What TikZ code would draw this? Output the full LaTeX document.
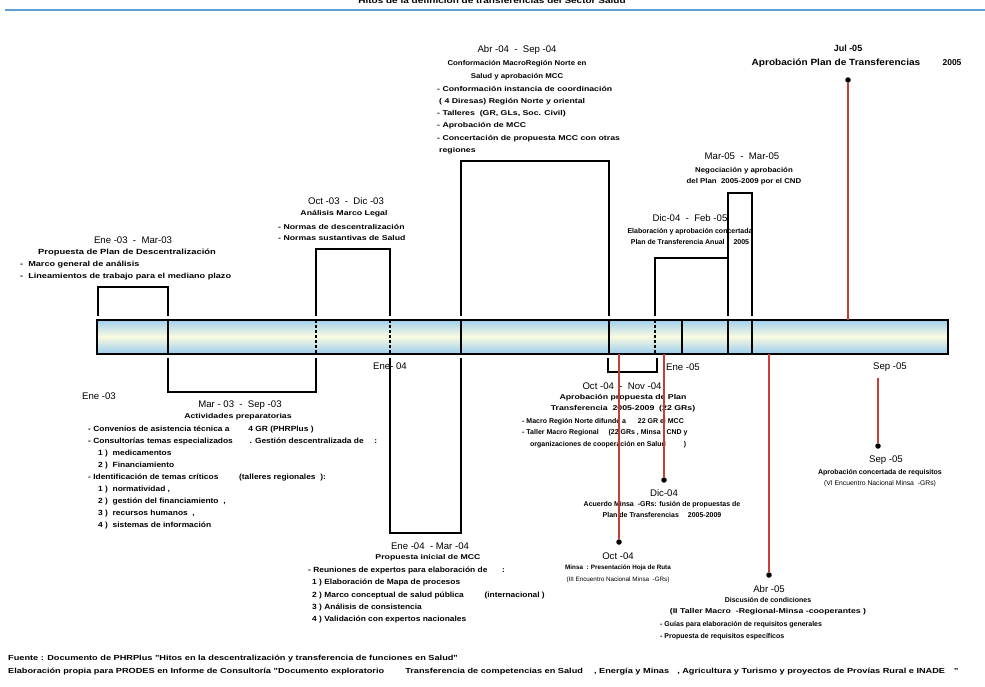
\documentclass[tikz,border=0pt]{standalone}
\usepackage{fontspec}
\setmainfont{Liberation Sans}
\newfontfamily\ancha[FakeStretch=1.25]{Liberation Sans}
\newfontfamily\anchab[FakeStretch=1.12]{Liberation Sans}
\usetikzlibrary{positioning}

\definecolor{rojo}{RGB}{200,62,52}
\definecolor{azulbar}{RGB}{160,208,238}
\definecolor{crema}{RGB}{250,250,224}
\definecolor{azultit}{RGB}{92,160,214}

\begin{document}
\begin{tikzpicture}[x=1pt,y=-1pt,
    date/.style={font=\fontsize{9.6}{11}\selectfont, inner sep=0pt},
    lbl/.style={font=\bfseries\fontsize{7}{11.5}\selectfont, inner sep=0pt, align=center},
    wlbl/.style={lbl, font=\ancha\bfseries\fontsize{7}{11.5}\selectfont},
    lst/.style={font=\bfseries\fontsize{7}{12}\selectfont, inner sep=0pt, align=left, anchor=north west},
    wlst/.style={lst, font=\ancha\bfseries\fontsize{7}{12}\selectfont},
    brk/.style={draw=black, line width=1.6pt},
    tick/.style={draw=black, line width=1.6pt},
    hito/.style={draw=rojo, line width=1.6pt},
    dot/.style={circle, fill=black, inner sep=0pt, minimum size=5.5pt}]

\useasboundingbox (0,0) rectangle (985,686);
\fill[white] (0,0) rectangle (985,686);

% titulo
\node[font=\ancha\bfseries\fontsize{8}{9}\selectfont, inner sep=0pt] (titulo) at (492,1) {Hitos de la definición de transferencias del Sector Salud};
\draw[azultit, line width=2pt] (5,10) -- (985,10);

% barra de tiempo
\foreach \i in {0,...,33} {
  \pgfmathsetmacro\pct{100*abs(\i-16.5)/16.5}
  \fill[azulbar!\pct!crema] (97,{320+\i}) rectangle (948,{321.4+\i});
}
\draw[line width=1.8pt] (97,320) rectangle (948,354);

% puntos en la barra
\foreach \n/\x in {e03/98, m03/168, o03/316, d03/390, a04/461, s04/609, o04/608, d04/655, n04/657, f05/728, m05/752} {
  \coordinate (\n t) at (\x,316);
  \coordinate (\n b) at (\x,358);
}
\foreach \x in {168, 461, 609, 682, 728, 752}
  \draw[tick] (\x,320) -- (\x,354);
\foreach \x in {316, 390, 655}
  \draw[tick, densely dashed] (\x,320) -- (\x,354);

% tramos sobre la barra
\draw[brk] (e03t) |- (130,287) -| (m03t);
\draw[brk] (o03t) |- (350,249) -| (d03t);
\draw[brk] (a04t) |- (530,161) -| (s04t);
\draw[brk] (d04t) |- (690,258) -| (f05t);
\draw[brk] (f05t) |- (740,193) -| (m05t);

% tramos bajo la barra
\draw[brk] (m03b) |- (240,392) -| (o03b);
\draw[brk] (d03b) |- (430,533) -| (a04b);
\draw[brk] (o04b) |- (630,372) -| (n04b);

% Ene-03 - Mar-03
\node[date] (d1) at (133,240) {Ene -03 \ - \ Mar-03};
\node[wlbl, font=\ancha\bfseries\fontsize{7.5}{11.5}\selectfont] (t1) at (127,253) {Propuesta de Plan de Descentralización};
\node[wlst, font=\ancha\bfseries\fontsize{7.3}{12}\selectfont] (l1) at (20,261) {- \ Marco general de análisis\\- \ Lineamientos de trabajo para el mediano plazo};

% Oct-03 - Dic-03
\node[date] (d2) at (346,201) {Oct -03 \ - \ Dic -03};
\node[wlbl] (t2) at (344,214) {Análisis Marco Legal};
\node[wlst, font=\ancha\bfseries\fontsize{7}{11}\selectfont] (l2) at (278,224) {- Normas de descentralización\\- Normas sustantivas de Salud};

% Abr-04 - Sep-04
\node[date] (d3) at (517,50) {Abr -04 \ - \ Sep -04};
\node[lbl, anchor=north, font=\anchab\bfseries\fontsize{7}{13}\selectfont] (t3) at (517,60) {Conformación MacroRegión Norte en\\Salud y aprobación MCC};
\node[wlst, font=\ancha\bfseries\fontsize{7}{12.2}\selectfont] (l3) at (437,86) {- Conformación instancia de coordinación\\\hspace*{2pt}( 4 Diresas) Región Norte y oriental\\- Talleres \ (GR, GLs, Soc. Civil)\\- Aprobación de MCC\\- Concertación de propuesta MCC con otras\\\hspace*{2pt}regiones};

% Jul-05
\node[date, font=\bfseries\fontsize{9}{10}\selectfont] (d4) at (848,48) {Jul -05};
\node[lbl, font=\anchab\bfseries\fontsize{9}{10}\selectfont] (t4) at (836,63) {Aprobación Plan de Transferencias};
\node[lbl, font=\bfseries\fontsize{8.5}{10}\selectfont] (a4) at (952,63) {2005};
\node[dot] (p4) at (848,80) {};

% Mar-05 - Mar-05
\node[date] (d5) at (742,156) {Mar-05 \ - \ Mar-05};
\node[lbl, anchor=north, font=\anchab\bfseries\fontsize{7}{11}\selectfont] (t5) at (744,167) {Negociación y aprobación\\del Plan \ 2005-2009 por el CND};

% Dic-04 - Feb-05
\node[date] (d6) at (690,218) {Dic-04 \ - \ Feb -05};
\node[lbl, anchor=north, font=\bfseries\fontsize{7}{11}\selectfont] (t6) at (690,228) {Elaboración y aprobación concertada\\Plan de Transferencia Anual \quad 2005};

% fechas junto a la barra
\node[date] (e03) at (99,396) {Ene -03};
\node[date] (e04) at (390,366) {Ene- 04};
\node[date] (e05) at (683,367) {Ene -05};
\node[date] (s05) at (890,367) {Sep -05};

% Mar-03 - Sep-03
\node[date] (d7) at (240,405) {Mar - 03 \ - \ Sep -03};
\node[wlbl] (t7) at (238,417) {Actividades preparatorias};
\node[lst, font=\anchab\bfseries\fontsize{7.5}{12}\selectfont] (l7) at (88,426) {- Convenios de asistencia técnica a \hspace{14pt} 4 GR (PHRPlus )\\
  - Consultorías temas especializados \hspace{12pt} . Gestión descentralizada de \hspace{6pt} :\\
  \hspace*{10pt}1 ) \ medicamentos\\
  \hspace*{10pt}2 ) \ Financiamiento\\
  - Identificación de temas críticos \hspace{16pt} (talleres regionales \ ):\\
  \hspace*{10pt}1 ) \ normatividad ,\\
  \hspace*{10pt}2 ) \ gestión del financiamiento \ ,\\
  \hspace*{10pt}3 ) \ recursos humanos \ ,\\
  \hspace*{10pt}4 ) \ sistemas de información};

% Ene-04 - Mar-04
\node[date] (d8) at (430,546) {Ene -04 \ - Mar -04};
\node[wlbl] (t8) at (428,558) {Propuesta inicial de MCC};
\node[lst, font=\anchab\bfseries\fontsize{7.5}{12.2}\selectfont] (l8) at (308,567) {- Reuniones de expertos para elaboración de \hspace{10pt} :\\
  \hspace*{4pt}1 ) Elaboración de Mapa de procesos\\
  \hspace*{4pt}2 ) Marco conceptual de salud pública \hspace{16pt} (internacional )\\
  \hspace*{4pt}3 ) Análisis de consistencia\\
  \hspace*{4pt}4 ) Validación con expertos nacionales};

% Oct-04 - Nov-04
\node[date] (d9) at (622,386) {Oct -04 \ - \ Nov -04};
\node[wlbl, anchor=north] (t9) at (623,394) {Aprobación propuesta de Plan\\Transferencia \ 2005-2009 \ (22 GRs)};
\node[lst, font=\bfseries\fontsize{7}{11.5}\selectfont] (l9) at (522,418) {- Macro Región Norte difunde a \hspace{8pt} 22 GR el MCC\\
  - Taller Macro Regional \hspace{6pt} (22 GRs , Minsa , CND y\\
  \hspace*{8pt}organizaciones de cooperación en Salud \hspace{14pt} )};

% Dic-04
\node[dot] (p10) at (664,480) {};
\node[date] (d10) at (664,493) {Dic-04};
\node[lbl, anchor=north] (t10) at (662,501) {Acuerdo Minsa \ -GRs: fusión de propuestas de\\Plan de Transferencias \quad 2005-2009};

% Oct-04
\node[dot] (p11) at (619,542) {};
\node[date] (d11) at (618,556) {Oct -04};
\node[lbl, anchor=north, font=\bfseries\fontsize{6.3}{11.5}\selectfont] (t11) at (618,565) {Minsa \ : Presentación Hoja de Ruta\\{\mdseries (III Encuentro Nacional Minsa \ -GRs)}};

% Abr-05
\node[dot] (p12) at (769,575) {};
\node[date] (d12) at (769,589) {Abr -05};
\node[lbl, anchor=north] (t12) at (768,597) {Discusión de condiciones\\{\ancha (II Taller Macro \ -Regional-Minsa -cooperantes )}};
\node[lst] (l12) at (660,621) {- Guías para elaboración de requisitos generales\\- Propuesta de requisitos específicos};

% Sep-05
\coordinate (q13) at (878,378);
\node[dot] (p13) at (878,446) {};
\node[date] (d13) at (886,460) {Sep -05};
\node[lbl, anchor=north] (t13) at (880,469) {Aprobación concertada de requisitos\\{\mdseries\fontsize{6.8}{11.5}\selectfont (VI Encuentro Nacional Minsa \ -GRs)}};

% hitos puntuales
\draw[hito] (p4) -- (848,320);
\draw[hito] (619,354) -- (p11);
\draw[hito] (664,354) -- (p10);
\draw[hito] (769,354) -- (p12);
\draw[hito] (q13) -- (p13);

% fuente
\node[wlst, font=\ancha\bfseries\fontsize{7.35}{13}\selectfont] (fuente) at (8,655) {Fuente : Documento de PHRPlus "Hitos en la descentralización y transferencia de funciones en Salud"\\
  Elaboración propia para PRODES en Informe de Consultoría "Documento exploratorio \hspace{16pt} Transferencia de competencias en Salud \hspace{6pt} , Energía y Minas \hspace{3pt} , Agricultura y Turismo y proyectos de Provías Rural e INADE \hspace{4pt} "};
\end{tikzpicture}
\end{document}
